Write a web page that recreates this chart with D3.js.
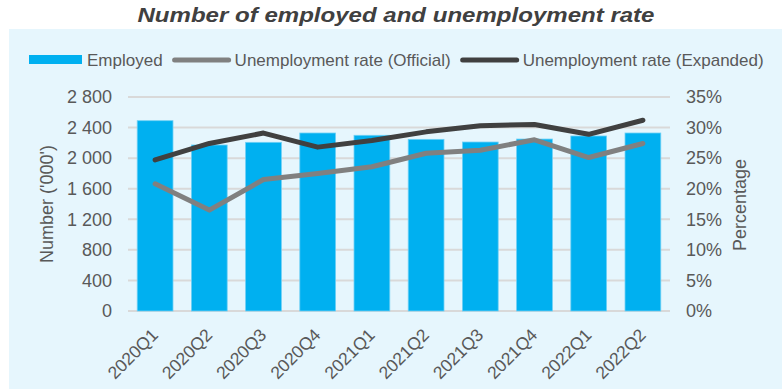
<!DOCTYPE html>
<html>
<head>
<meta charset="utf-8">
<script src="https://cdn.jsdelivr.net/npm/d3@7/dist/d3.min.js"></script>
<style>
  html, body { margin: 0; padding: 0; background: #ffffff; }
  svg { display: block; font-family: "Liberation Sans", Arial, sans-serif; }
</style>
</head>
<body>
<svg id="chart" width="782" height="389"></svg>
<script>
const categories = ["2020Q1","2020Q2","2020Q3","2020Q4","2021Q1","2021Q2","2021Q3","2021Q4","2022Q1","2022Q2"];
const employed = [2490, 2172, 2207, 2329, 2299, 2246, 2211, 2250, 2290, 2329];
const officialRate = [20.8, 16.5, 21.5, 22.5, 23.6, 25.8, 26.3, 28.0, 25.1, 27.4];
const expandedRate = [24.7, 27.4, 29.1, 26.8, 27.9, 29.3, 30.3, 30.5, 28.9, 31.2];
const leftTicks = [0, 400, 800, 1200, 1600, 2000, 2400, 2800];
const rightTicks = [0, 5, 10, 15, 20, 25, 30, 35];
const seriesNames = ["Employed", "Unemployment rate (Official)", "Unemployment rate (Expanded)"];
const titleText = "Number of employed and unemployment rate";

const textColor = "#595959";
const barColor = "#00B0F0";
const officialColor = "#808080";
const expandedColor = "#404040";

const svg = d3.select("#chart");

// panel
svg.append("rect").attr("x", 9).attr("y", 29).attr("width", 773).attr("height", 360).attr("fill", "#E6F6FD");

// title
svg.append("text").attr("x", 396).attr("y", 22).attr("text-anchor", "middle")
  .attr("font-size", 21).attr("font-weight", "bold").attr("font-style", "italic")
  .attr("textLength", 517).attr("lengthAdjust", "spacingAndGlyphs")
  .attr("fill", "#404040").text(titleText);

const plot = { left: 128, right: 670, top: 97, bottom: 311 };

const x = d3.scaleBand().domain(categories).range([plot.left, plot.right]).paddingInner(0.34).paddingOuter(0.17);
const yL = d3.scaleLinear().domain([0, 2800]).range([plot.bottom, plot.top]);
const yR = d3.scaleLinear().domain([0, 35]).range([plot.bottom, plot.top]);

// gridlines
svg.append("g").selectAll("line").data(leftTicks).join("line")
  .attr("x1", plot.left).attr("x2", plot.right)
  .attr("y1", d => yL(d)).attr("y2", d => yL(d))
  .attr("stroke", "#D9D9D9").attr("stroke-width", 2);

// left axis
const leftAxis = svg.append("g").attr("transform", `translate(${plot.left},0)`)
  .call(d3.axisLeft(yL).tickValues(leftTicks).tickSize(0).tickPadding(16)
    .tickFormat(d => d3.format(",")(d).replace(",", " ")));
leftAxis.select(".domain").remove();
leftAxis.selectAll("text").attr("fill", textColor).attr("font-size", 18).attr("font-family", "Liberation Sans, Arial, sans-serif");

// right axis
const rightAxis = svg.append("g").attr("transform", `translate(${plot.right},0)`)
  .call(d3.axisRight(yR).tickValues(rightTicks).tickSize(0).tickPadding(16).tickFormat(d => d + "%"));
rightAxis.select(".domain").remove();
rightAxis.selectAll("text").attr("fill", textColor).attr("font-size", 18).attr("font-family", "Liberation Sans, Arial, sans-serif");

// bars
svg.append("g").selectAll("rect").data(categories).join("rect")
  .attr("x", d => x(d)).attr("width", x.bandwidth())
  .attr("y", (d, i) => yL(employed[i])).attr("height", (d, i) => yL(0) - yL(employed[i]))
  .attr("fill", barColor).attr("stroke", "#6FD0F5").attr("stroke-width", 0.8);

// lines
const line = d3.line().x((d, i) => x(categories[i]) + x.bandwidth() / 2).y(d => yR(d));
svg.append("path").datum(officialRate).attr("d", line).attr("fill", "none")
  .attr("stroke", officialColor).attr("stroke-width", 5).attr("stroke-linecap", "round").attr("stroke-linejoin", "round");
svg.append("path").datum(expandedRate).attr("d", line).attr("fill", "none")
  .attr("stroke", expandedColor).attr("stroke-width", 5).attr("stroke-linecap", "round").attr("stroke-linejoin", "round");

// x labels
svg.append("g").selectAll("text").data(categories).join("text")
  .attr("transform", d => `translate(${x(d) + x.bandwidth() / 2 + 4},336) rotate(-45)`)
  .attr("text-anchor", "end").attr("font-size", 17.5).attr("fill", textColor).text(d => d);

// axis titles
svg.append("text").attr("transform", "translate(53,204) rotate(-90)").attr("text-anchor", "middle")
  .attr("font-size", 18).attr("fill", textColor).text("Number ('000')");
svg.append("text").attr("transform", "translate(746,205) rotate(-90)").attr("text-anchor", "middle")
  .attr("font-size", 18).attr("fill", textColor).text("Percentage");

// legend
const legend = svg.append("g");
let lx = 29;
const ly = 60;
const colors = [barColor, officialColor, expandedColor];
seriesNames.forEach((name, i) => {
  if (i === 0) {
    legend.append("rect").attr("x", lx).attr("y", ly - 5).attr("width", 53).attr("height", 9).attr("fill", colors[i]);
  } else {
    legend.append("line").attr("x1", lx + 3).attr("x2", lx + 57).attr("y1", ly).attr("y2", ly)
      .attr("stroke", colors[i]).attr("stroke-width", 5).attr("stroke-linecap", "round");
  }
  const off = i === 0 ? 58 : 63;
  const t = legend.append("text").attr("x", lx + off).attr("y", ly + 6)
    .attr("font-size", 17).attr("fill", textColor).text(name);
  lx = lx + off + t.node().getComputedTextLength() + 9;
});
</script>
</body>
</html>
